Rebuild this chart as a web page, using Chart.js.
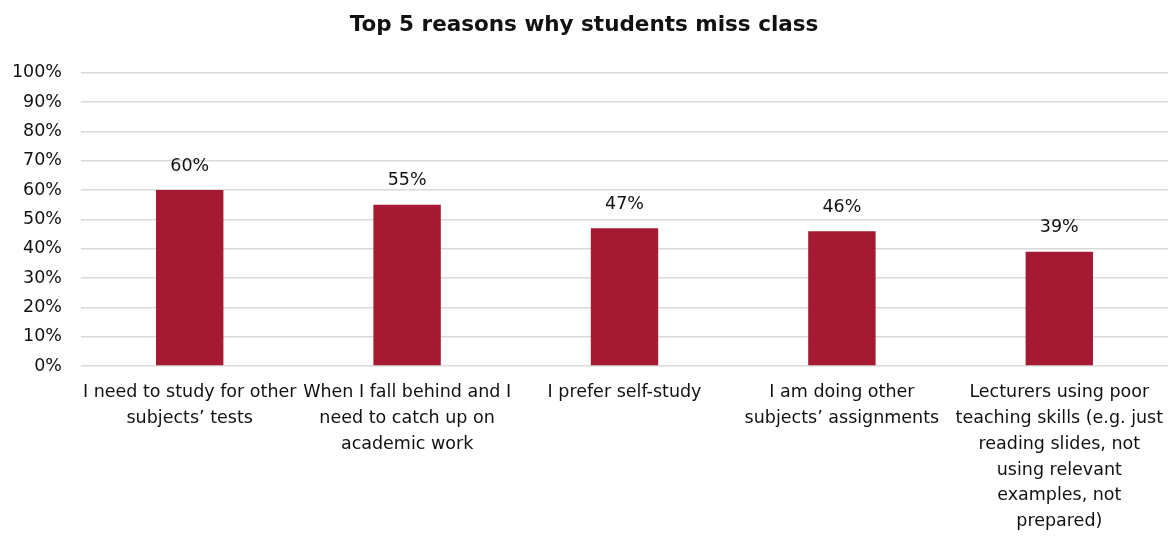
<!DOCTYPE html>
<html>
<head>
<meta charset="utf-8">
<script src="https://cdn.jsdelivr.net/npm/chart.js@4.4.0/dist/chart.umd.min.js"></script>
<style>
  html, body { margin: 0; padding: 0; background: #fff; }
  #wrap { width: 1172px; height: 536px; }
</style>
</head>
<body>
<div id="wrap"><canvas id="reasons-chart"></canvas></div>
<script>
const chartTitle = 'Top 5 reasons why students miss class';
const categories = [
    ['I need to study for other', 'subjects\u2019 tests'],
    ['When I fall behind and I', 'need to catch up on', 'academic work'],
    ['I prefer self-study'],
    ['I am doing other', 'subjects\u2019 assignments'],
    ['Lecturers using poor', 'teaching skills (e.g. just', 'reading slides, not', 'using relevant', 'examples, not', 'prepared)']
];
const percentValues = [60, 55, 47, 46, 39];
const yTicks = [0, 10, 20, 30, 40, 50, 60, 70, 80, 90, 100];

const FONT = '"DejaVu Sans", sans-serif';
const BAR_COLOR = '#A51A32';

const valueLabels = {
    id: 'valueLabels',
    afterDatasetsDraw: function (chart) {
        const ctx = chart.ctx;
        const meta = chart.getDatasetMeta(0);
        ctx.save();
        ctx.font = '17.5px ' + FONT;
        ctx.fillStyle = '#111';
        ctx.textAlign = 'center';
        ctx.textBaseline = 'middle';
        meta.data.forEach((bar, i) => {
            ctx.fillText(percentValues[i] + '%', bar.x, bar.y - 24);
        });
        ctx.restore();
    }
};

document.addEventListener('DOMContentLoaded', function () {
    const ctx = document.getElementById('reasons-chart').getContext('2d');
    new Chart(ctx, {
        type: 'bar',
        data: {
            labels: categories,
            datasets: [{
                data: percentValues,
                backgroundColor: BAR_COLOR,
                borderWidth: 0,
                categoryPercentage: 1,
                barPercentage: 0.31
            }]
        },
        options: {
            responsive: true,
            maintainAspectRatio: false,
            animation: false,
            layout: { padding: { top: 12, right: 4, left: 0, bottom: 0 } },
            plugins: {
                legend: { display: false },
                tooltip: { enabled: false },
                title: {
                    display: true,
                    text: chartTitle,
                    color: '#111',
                    font: { family: FONT, size: 21.5, weight: 'bold' },
                    padding: { top: 1, bottom: 34 }
                }
            },
            scales: {
                x: {
                    grid: { display: false },
                    border: { display: false },
                    ticks: {
                        color: '#111',
                        font: { family: FONT, size: 17.5, lineHeight: 1.47 },
                        maxRotation: 0,
                        autoSkip: false,
                        padding: 6
                    },
                    afterFit: function (scale) { scale.height = 170; }
                },
                y: {
                    min: 0,
                    max: 100,
                    afterBuildTicks: function (scale) {
                        scale.ticks = yTicks.map(v => ({ value: v }));
                    },
                    grid: { color: '#d9d9d9', lineWidth: 1.5, drawTicks: false },
                    border: { display: false },
                    ticks: {
                        color: '#111',
                        font: { family: FONT, size: 17.5 },
                        padding: 19,
                        callback: v => v + '%'
                    },
                    afterFit: function (scale) { scale.width = 81; }
                }
            }
        },
        plugins: [valueLabels]
    });
});
</script>
</body>
</html>
